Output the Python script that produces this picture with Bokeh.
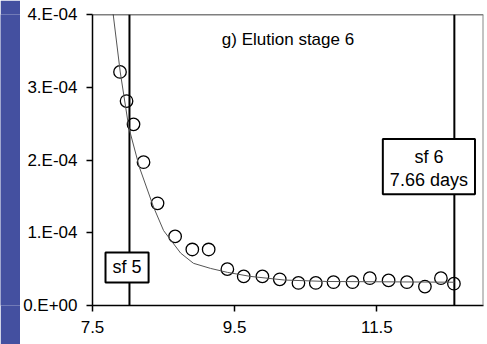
from bokeh.plotting import figure
from bokeh.layouts import row
from bokeh.models import Range1d, FixedTicker, Span
from bokeh.core.properties import value
from bokeh.embed import file_html
from bokeh.resources import INLINE

# Measured concentrations during elution stage 6
days = [7.887, 7.979, 8.077, 8.218, 8.415, 8.662, 8.904, 9.134, 9.397, 9.627, 9.890,
        10.134, 10.397, 10.641, 10.890, 11.158, 11.401, 11.665, 11.923, 12.176, 12.401, 12.584]
conc = [3.21e-4, 2.81e-4, 2.49e-4, 1.97e-4, 1.405e-4, 0.95e-4, 0.77e-4, 0.77e-4, 0.50e-4, 0.40e-4, 0.40e-4,
        0.36e-4, 0.31e-4, 0.31e-4, 0.32e-4, 0.32e-4, 0.375e-4, 0.345e-4, 0.32e-4, 0.26e-4, 0.375e-4, 0.30e-4]

# Model curve
model_days = [7.76, 7.89, 8.01, 8.16, 8.36, 8.50, 8.74, 8.92, 9.16, 9.40, 9.72, 10.2, 10.8, 12.59]
model_conc = [4.25e-4, 3.21e-4, 2.45e-4, 1.90e-4, 1.35e-4, 1.03e-4, 0.72e-4, 0.58e-4, 0.51e-4,
              0.455e-4, 0.40e-4, 0.35e-4, 0.33e-4, 0.32e-4]

# Sampling-factor change times
sf_days = [8.02, 12.59]

x_ticks = [7.5, 9.5, 11.5]
y_ticks = [0.0, 1e-4, 2e-4, 3e-4, 4e-4]
y_tick_labels = ["0.E+00", "1.E-04", "2.E-04", "3.E-04", "4.E-04"]

FONT = "Liberation Sans"

band = figure(width=20, height=344, toolbar_location=None, output_backend="svg",
              min_border=0, x_range=(0, 1), y_range=(0, 1))
band.axis.visible = False
band.grid.visible = False
band.outline_line_color = None
band.background_fill_color = "#4450a0"
band.border_fill_color = "#4450a0"

p = figure(width=467, height=344, toolbar_location=None, output_backend="svg",
           x_range=Range1d(7.5, 13.0), y_range=Range1d(0, 4e-4),
           min_border_left=72, min_border_right=4, min_border_top=14, min_border_bottom=39)
p.grid.visible = False
p.outline_line_color = None
p.background_fill_color = "white"
p.border_fill_color = "white"

for ax in (p.xaxis[0], p.yaxis[0]):
    ax.axis_line_color = "black"
    ax.axis_line_width = 1.5
    ax.major_tick_line_color = "black"
    ax.major_tick_line_width = 1.5
    ax.major_tick_in = 0
    ax.major_tick_out = 6
    ax.minor_tick_line_color = None
    ax.major_label_text_font = FONT
    ax.major_label_text_font_size = "17px"
    ax.major_label_text_color = "black"

p.xaxis.ticker = FixedTicker(ticks=x_ticks)
p.xaxis.major_label_standoff = 9
p.yaxis.ticker = FixedTicker(ticks=y_ticks)
p.yaxis.major_label_overrides = {t: l for t, l in zip(y_ticks, y_tick_labels)}
p.yaxis.major_label_standoff = 9

# frame top and right edges
p.add_layout(Span(location=4e-4, dimension="width", line_color="black", line_width=1.5))
p.add_layout(Span(location=13.0, dimension="height", line_color="#888888", line_width=2))

# sf marker lines
p.segment(x0=sf_days, y0=[0, 0], x1=sf_days, y1=[4e-4, 4e-4], line_color="black", line_width=2)

p.scatter(days, conc, marker="circle", size=12.5, fill_color=None, line_color="black", line_width=1.3)
p.line(model_days, model_conc, line_color="#555555", line_width=1)

# annotation boxes
p.rect(x=[7.986], y=[0.523e-4], width=0.606, height=0.413e-4,
       fill_color="white", line_color="black", line_width=2)
p.rect(x=[12.232], y=[1.908e-4], width=1.296, height=0.758e-4,
       fill_color="white", line_color="black", line_width=2)

p.text(x=[7.986], y=[0.523e-4], text=["sf 5"], text_align="center", text_baseline="middle",
       text_font=value(FONT), text_font_size="18px", text_color="black")
p.text(x=[12.232, 12.232], y=[2.035e-4, 1.72e-4], text=["sf 6", "7.66 days"],
       text_align="center", text_baseline="middle",
       text_font=value(FONT), text_font_size="18px", text_color="black")

p.text(x=[10.25], y=[3.65e-4], text=["g) Elution stage 6"], text_align="center", text_baseline="middle",
       text_font=value(FONT), text_font_size="17px", text_color="black")

layout = row(band, p, spacing=0)
open("out.html", "w").write(file_html(layout, INLINE))
